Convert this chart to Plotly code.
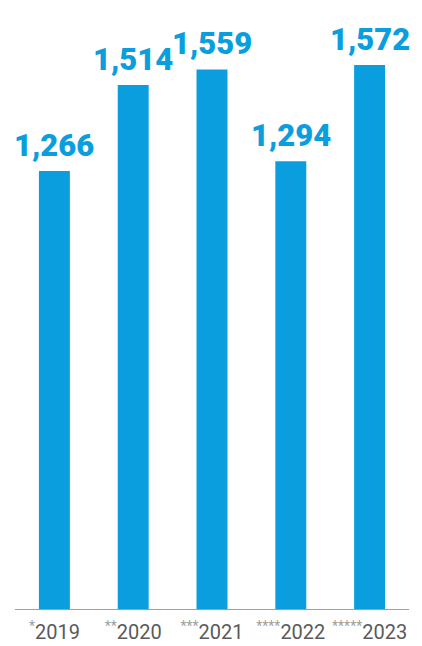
import plotly.graph_objects as go

# Yearly totals
years = ["2019", "2020", "2021", "2022", "2023"]
marks = ["*", "**", "***", "****", "*****"]
values = [1266, 1514, 1559, 1294, 1572]

BLUE = "#0B9EDE"
FONT = "Roboto, sans-serif"

pos = list(range(len(years)))
tick_text = [
    f"<span style='color:#a0a0a0'><sup>{m}</sup></span>{y}"
    for m, y in zip(marks, years)
]

fig = go.Figure(
    go.Bar(
        x=pos,
        y=values,
        width=0.393,
        marker=dict(color=BLUE, line=dict(width=0)),
        hoverinfo="skip",
    )
)

# Value labels above each bar
for p, v in zip(pos, values):
    fig.add_annotation(
        x=p,
        y=v,
        text=f"{v:,}",
        showarrow=False,
        yanchor="bottom",
        yshift=5,
        font=dict(family=FONT, size=31, color=BLUE, weight=900),
    )

fig.update_layout(
    width=422,
    height=646,
    margin=dict(l=15, r=13, t=20, b=37, autoexpand=False),
    paper_bgcolor="white",
    plot_bgcolor="white",
    showlegend=False,
    xaxis=dict(
        range=[-0.5, 4.5],
        tickmode="array",
        tickvals=pos,
        ticktext=tick_text,
        tickangle=0,
        ticklabelstandoff=5,
        showline=True,
        linecolor="#a0a0a0",
        linewidth=1,
        showgrid=False,
        zeroline=False,
        ticks="",
        tickfont=dict(family=FONT, size=20, color="#5a5a5a"),
        fixedrange=True,
    ),
    yaxis=dict(
        range=[0, 1702],
        visible=False,
        showgrid=False,
        zeroline=False,
        fixedrange=True,
    ),
)

fig.write_html("out.html")
